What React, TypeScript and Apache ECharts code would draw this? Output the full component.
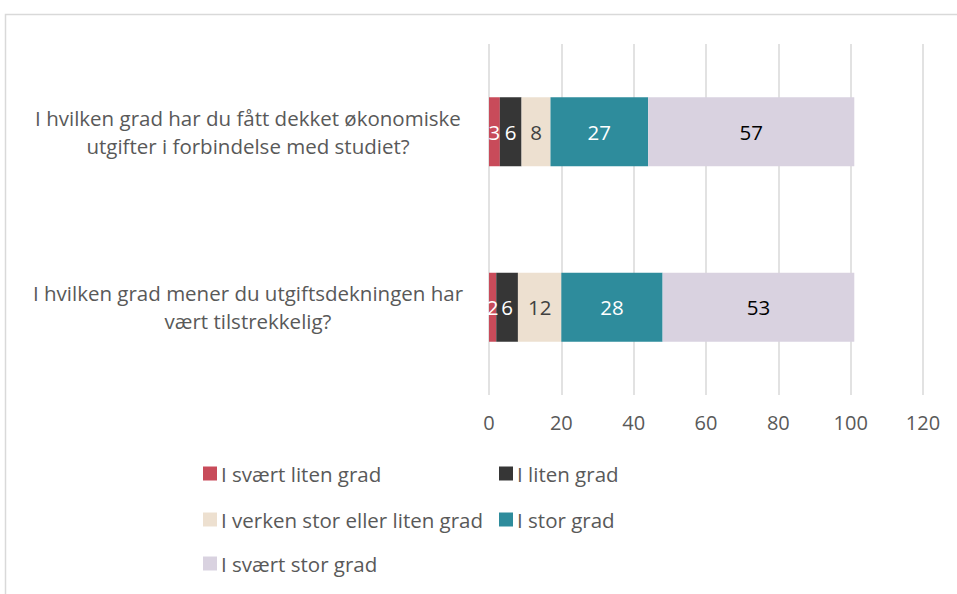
import React, { useEffect, useRef } from "react";
import * as echarts from "echarts";

const categories = [
  "I hvilken grad har du fått dekket økonomiske\nutgifter i forbindelse med studiet?",
  "I hvilken grad mener du utgiftsdekningen har\nvært tilstrekkelig?",
];
const seriesNames = [
  "I svært liten grad",
  "I liten grad",
  "I verken stor eller liten grad",
  "I stor grad",
  "I svært stor grad",
];
const sveartLiten = [3, 2];
const liten = [6, 6];
const verken = [8, 12];
const stor = [27, 28];
const sveartStor = [57, 53];
const xTicks = [0, 20, 40, 60, 80, 100, 120];

const colors = ["#C84B5A", "#363636", "#EDE0D0", "#2E8C9C", "#D9D2E0"];
const labelColors = ["#ffffff", "#ffffff", "#404040", "#ffffff", "#000000"];
const FONT = "Open Sans";

export default function App() {
  const ref = useRef<HTMLDivElement>(null);
  useEffect(() => {
    const chart = echarts.init(ref.current!, null, { renderer: "svg" });
    const values = [sveartLiten, liten, verken, stor, sveartStor];
    const legendPos = [
      { left: 203, top: 463 },
      { left: 499, top: 463 },
      { left: 203, top: 509 },
      { left: 499, top: 509 },
      { left: 203, top: 553 },
    ];
    chart.setOption({
      animation: false,
      textStyle: { fontFamily: FONT },
      grid: { left: 489, right: 34, top: 44, bottom: 199 },
      xAxis: {
        type: "value",
        min: xTicks[0],
        max: xTicks[xTicks.length - 1],
        interval: 20,
        axisLine: { show: false },
        axisTick: { show: false },
        splitLine: { lineStyle: { color: "#d9d9d9", width: 1.5 } },
        axisLabel: { color: "#595959", fontSize: 20, fontFamily: FONT, margin: 17 },
      },
      yAxis: {
        type: "category",
        inverse: true,
        data: categories,
        axisLine: { show: false },
        axisTick: { show: false },
        axisLabel: {
          color: "#595959",
          fontSize: 20.5,
          fontFamily: FONT,
          align: "center",
          margin: 241,
          lineHeight: 28,
        },
      },
      legend: legendPos.map((p, i) => ({
        left: p.left,
        top: p.top,
        padding: 0,
        data: [seriesNames[i]],
        icon: "rect",
        itemWidth: 14,
        itemHeight: 14,
        itemGap: 4,
        textStyle: { color: "#595959", fontSize: 20.5, fontFamily: FONT, padding: [0, 0, 0, -1] },
      })),
      graphic: [
        {
          type: "rect",
          shape: { x: 5.5, y: 14.5, width: 1000, height: 1000 },
          style: { fill: "none", stroke: "#d9d9d9", lineWidth: 1.5 },
          silent: true,
        },
      ],
      series: seriesNames.map((name, i) => ({
        name,
        type: "bar",
        stack: "total",
        data: values[i],
        barWidth: 69,
        itemStyle: { color: colors[i] },
        label: {
          show: true,
          position: "inside",
          color: labelColors[i],
          fontSize: 20.5,
          fontFamily: FONT,
        },
      })),
    });
    return () => chart.dispose();
  }, []);
  return <div ref={ref} style={{ width: 957, height: 594, position: "absolute", left: 0, top: 0 }} />;
}
